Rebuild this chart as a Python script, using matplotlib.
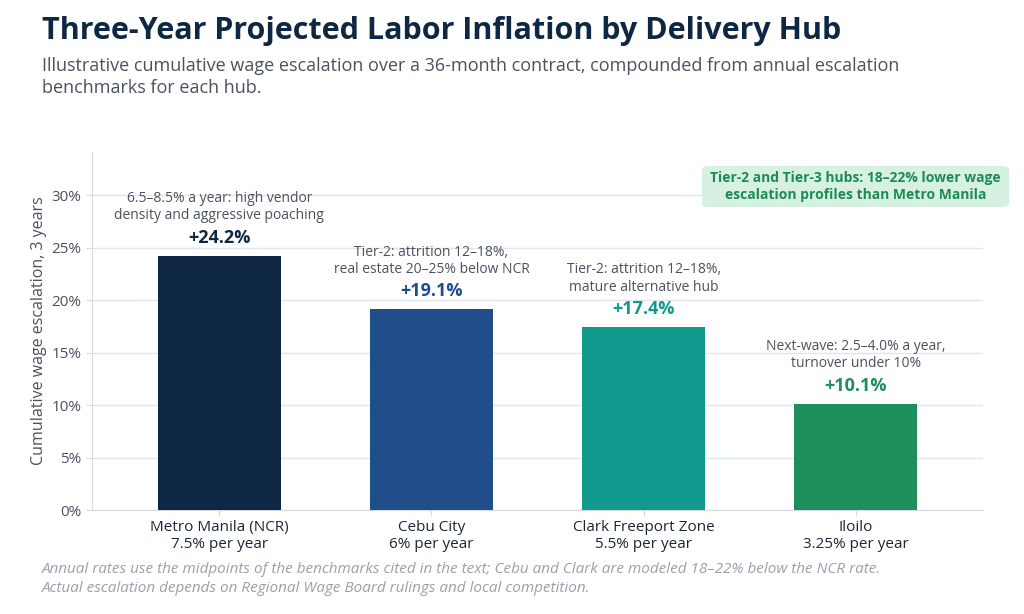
import matplotlib.pyplot as plt
from matplotlib.patches import FancyBboxPatch

plt.rcParams['font.family'] = ['Open Sans', 'DejaVu Sans']

hubs = ['Metro Manila (NCR)', 'Cebu City', 'Clark Freeport Zone', 'Iloilo']
rates = ['7.5% per year', '6% per year', '5.5% per year', '3.25% per year']
cumulative = [24.2, 19.1, 17.4, 10.1]
notes = ['6.5\u20138.5% a year: high vendor\ndensity and aggressive poaching',
         'Tier-2: attrition 12\u201318%,\nreal estate 20\u201325% below NCR',
         'Tier-2: attrition 12\u201318%,\nmature alternative hub',
         'Next-wave: 2.5\u20134.0% a year,\nturnover under 10%']
colors = ['#0e2743', '#1f4e8a', '#11998e', '#1e8f5c']
yticks = [0, 5, 10, 15, 20, 25, 30]

fig = plt.figure(figsize=(10.24, 6.14), dpi=100)
ax = fig.add_axes([92 / 1024, 1 - 510 / 614, (983 - 92) / 1024, (510 - 152) / 614])

x = range(len(hubs))
ax.bar(x, cumulative, width=0.58, color=colors, zorder=3)

ax.set_xlim(-0.6, 3.6)
ax.set_ylim(0, 34.1)
ax.set_yticks(yticks)
ax.set_yticklabels([f'{t}%' for t in yticks])
ax.set_xticks(list(x))
ax.set_xticklabels([f'{h}\n{r}' for h, r in zip(hubs, rates)], linespacing=1.15)
ax.grid(axis='y', color='#e1e5ee', linewidth=1, zorder=0)
for s in ['top', 'right']:
    ax.spines[s].set_visible(False)
for s in ['left', 'bottom']:
    ax.spines[s].set_color('#d5dae4')
ax.tick_params(axis='y', colors='#d5dae4', labelcolor='#4a5160', labelsize=11, length=4)
ax.tick_params(axis='x', colors='#d5dae4', labelcolor='#1a2638', labelsize=11, length=4)
ax.set_ylabel('Cumulative wage escalation, 3 years', fontsize=11.5, color='#4a5160', labelpad=3)

for i, v in enumerate(cumulative):
    ax.annotate(f'+{v:.1f}%', (i, v), xytext=(0, 6.5), textcoords='offset points',
                ha='center', va='bottom', fontsize=13, fontweight='bold', color=colors[i])
    ax.annotate(notes[i], (i, v), xytext=(0, 23.5), textcoords='offset points',
                ha='center', va='bottom', fontsize=10, color='#4a5160', linespacing=1.2)

fig.text(42 / 1024, 1 - 31 / 614, 'Three-Year Projected Labor Inflation by Delivery Hub',
         fontsize=22, fontweight='bold', color='#0e2743', va='center')
fig.text(42 / 1024, 1 - 77 / 614,
         'Illustrative cumulative wage escalation over a 36-month contract, compounded from annual escalation\nbenchmarks for each hub.',
         fontsize=13, color='#4a5160', va='center', linespacing=1.3)
fig.text(42 / 1024, 1 - 579 / 614,
         'Annual rates use the midpoints of the benchmarks cited in the text; Cebu and Clark are modeled 18\u201322% below the NCR rate.\nActual escalation depends on Regional Wage Board rulings and local competition.',
         fontsize=11, style='italic', color='#9aa0ab', va='center', linespacing=1.3)

box = FancyBboxPatch((702 / 1024, 1 - 207 / 614), (1009 - 702) / 1024, 41 / 614,
                     boxstyle='round,pad=0,rounding_size=0.006', transform=fig.transFigure,
                     facecolor='#d6f0e1', edgecolor='none')
fig.patches.append(box)
fig.text(855.5 / 1024, 1 - 186.5 / 614,
         'Tier-2 and Tier-3 hubs: 18\u201322% lower wage\nescalation profiles than Metro Manila',
         fontsize=10, fontweight='bold', color='#1e8a55', ha='center', va='center', linespacing=1.3)

fig.savefig('out.png', dpi=100)
